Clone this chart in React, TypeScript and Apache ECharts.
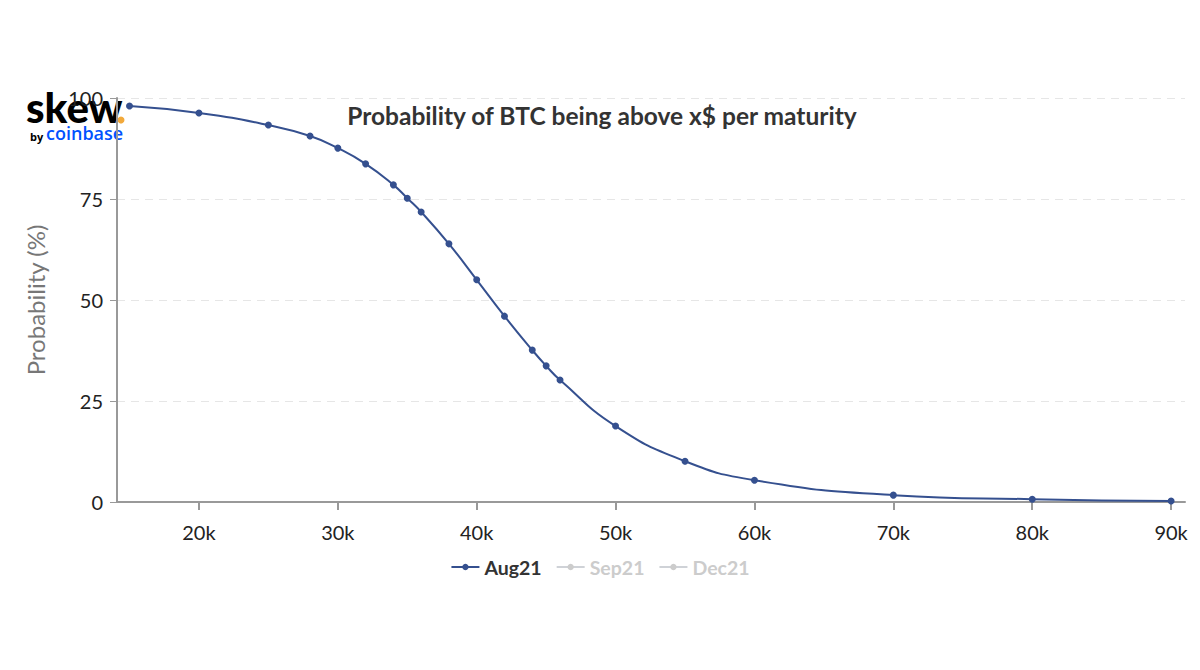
import React, { useEffect, useRef } from "react";
import * as echarts from "echarts";

const strikes = [15000, 20000, 25000, 28000, 30000, 32000, 34000, 35000, 36000, 38000, 40000, 42000, 44000, 45000, 46000, 50000, 55000, 60000, 70000, 80000, 90000];
const aug21 = [98.0, 96.3, 93.3, 90.6, 87.6, 83.7, 78.5, 75.2, 71.8, 63.9, 55.0, 46.0, 37.6, 33.7, 30.2, 18.8, 10.1, 5.4, 1.7, 0.7, 0.25];
const xTicks = [20000, 30000, 40000, 50000, 60000, 70000, 80000, 90000];
const seriesNames = ["Aug21", "Sep21", "Dec21"];

export default function App() {
  const ref = useRef<HTMLDivElement>(null);
  useEffect(() => {
    const chart = echarts.init(ref.current!, null, { renderer: "svg" });
    chart.setOption({
      animation: false,
      textStyle: { fontFamily: "Lato" },
      title: {
        text: "Probability of BTC being above x$ per maturity",
        left: 597,
        textAlign: "center",
        top: 98,
        textStyle: { fontSize: 24.5, fontWeight: "bold", color: "#333333", fontFamily: "Lato" },
      },
      graphic: [
        {
          type: "text",
          left: 26,
          top: 86,
          style: { text: "skew", fontSize: 42, fontWeight: 900, fill: "#000", fontFamily: "Lato" },
        },
        { type: "circle", shape: { cx: 121, cy: 120, r: 3.5 }, style: { fill: "#F2A93B" } },
        {
          type: "text",
          left: 30,
          top: 131,
          style: { text: "by", fontSize: 11, fontWeight: "bold", fill: "#000", fontFamily: "Open Sans" },
        },
        {
          type: "text",
          left: 46,
          top: 124,
          style: { text: "coinbase", fontSize: 18, fontWeight: 600, fill: "#0052FF", fontFamily: "Open Sans" },
        },
      ],
      legend: {
        data: seriesNames,
        bottom: 88,
        left: "center",
        itemGap: 14,
        itemWidth: 28,
        itemHeight: 8,
        selected: { Aug21: true, Sep21: false, Dec21: false },
        textStyle: { fontSize: 19.5, fontWeight: "bold", color: "#333" },
        inactiveColor: "#cccccc",
      },
      grid: { left: 117, right: 15, top: 98, bottom: 168 },
      xAxis: {
        type: "value",
        min: 14100,
        max: 91000,
        splitLine: { show: false },
        axisLine: { lineStyle: { color: "#999", width: 2 } },
        axisTick: { show: true, length: 8, customValues: xTicks, lineStyle: { color: "#999", width: 2 } },
        axisLabel: {
          customValues: xTicks,
          formatter: (v: number) => `${v / 1000}k`,
          fontSize: 20,
          color: "#222",
          margin: 20,
        },
      },
      yAxis: {
        type: "value",
        min: 0,
        max: 100,
        interval: 25,
        name: "Probability (%)",
        nameLocation: "middle",
        nameGap: 70,
        nameTextStyle: { fontSize: 24, color: "#777" },
        axisLine: { show: true, lineStyle: { color: "#999", width: 2 } },
        axisTick: { show: true, length: 7, lineStyle: { color: "#999", width: 1 } },
        axisLabel: { fontSize: 20, color: "#222", margin: 14 },
        splitLine: { lineStyle: { color: "#e6e6e6", type: [8, 6], width: 1 } },
      },
      series: [
        {
          name: "Aug21",
          type: "line",
          smooth: true,
          data: strikes.map((s, i) => [s, aug21[i]]),
          symbol: "circle",
          symbolSize: 7,
          itemStyle: { color: "#35508f" },
          lineStyle: { color: "#35508f", width: 2 },
        },
        { name: "Sep21", type: "line", data: [], symbol: "circle", itemStyle: { color: "#7cb5ec" } },
        { name: "Dec21", type: "line", data: [], symbol: "circle", itemStyle: { color: "#90ed7d" } },
      ],
    });
    return () => chart.dispose();
  }, []);
  return <div ref={ref} style={{ width: 1200, height: 670, position: "absolute", left: 0, top: 0 }} />;
}
